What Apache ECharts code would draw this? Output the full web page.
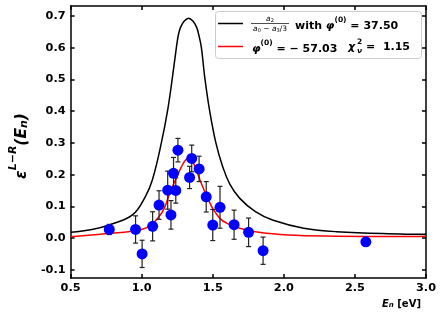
<!DOCTYPE html>
<html>
<head>
<meta charset="utf-8">
<script src="https://cdn.jsdelivr.net/npm/echarts@6/dist/echarts.min.js"></script>
<style>
html,body{margin:0;padding:0;background:#fff;}
#chart{width:443px;height:315px;}
</style>
</head>
<body>
<div id="chart"></div>
<script>
// ---- data ----
var energies = [0.772, 0.957, 1.003, 1.077, 1.122, 1.183, 1.206, 1.224, 1.240, 1.255,
                1.337, 1.352, 1.404, 1.454, 1.500, 1.551, 1.650, 1.752, 1.854, 2.577];
var asymmetry = [0.027, 0.027, -0.050, 0.037, 0.104, 0.151, 0.073, 0.204, 0.150, 0.277,
                 0.191, 0.251, 0.218, 0.130, 0.041, 0.097, 0.042, 0.018, -0.040, -0.012];
var asymErr = [0.016, 0.043, 0.043, 0.046, 0.045, 0.060, 0.045, 0.050, 0.040, 0.037,
               0.035, 0.042, 0.040, 0.048, 0.049, 0.066, 0.046, 0.045, 0.043, 0.010];

// black curve: a2/(a0 - a3/3) with phi(0)=37.50
var blackX = [0.50, 0.65, 0.776, 0.935, 1.025, 1.075, 1.138, 1.183, 1.217, 1.244, 1.258, 1.274, 1.300, 1.330,
              1.360, 1.386, 1.402, 1.420, 1.443, 1.477, 1.522, 1.570, 1.620, 1.690, 1.800, 1.920, 2.140, 2.370, 2.820, 3.00];
var blackY = [0.018, 0.027, 0.042, 0.073, 0.130, 0.183, 0.299, 0.404, 0.509, 0.600, 0.640, 0.665, 0.684, 0.693,
              0.684, 0.665, 0.640, 0.600, 0.509, 0.404, 0.300, 0.225, 0.170, 0.125, 0.083, 0.057, 0.031, 0.020, 0.013, 0.012];

// red curve: fit with phi(0) = -57.03
var redX = [0.50, 0.78, 0.94, 1.05, 1.12, 1.16, 1.20, 1.24, 1.28, 1.31, 1.33, 1.355, 1.38, 1.41,
            1.44, 1.465, 1.50, 1.55, 1.60, 1.69, 1.80, 2.03, 2.37, 2.82, 3.00];
var redY = [0.004, 0.015, 0.022, 0.036, 0.066, 0.095, 0.145, 0.185, 0.225, 0.247, 0.250, 0.243, 0.220, 0.183,
            0.150, 0.125, 0.093, 0.062, 0.046, 0.031, 0.020, 0.0095, 0.006, 0.005, 0.006];

var xTicks = [0.5, 1.0, 1.5, 2.0, 2.5, 3.0];
var yTicks = [-0.1, 0.0, 0.1, 0.2, 0.3, 0.4, 0.5, 0.6, 0.7];
var xMin = 0.5, xMax = 3.0, yMin = -0.126, yMax = 0.7315;

// ---- build options ----
function zip(a, b) { return a.map(function (v, i) { return [v, b[i]]; }); }
var errData = energies.map(function (x, i) { return [x, asymmetry[i] - asymErr[i], asymmetry[i] + asymErr[i]]; });

var FONT = 'DejaVu Sans';
var axisLineStyle = { color: '#000', width: 1.5 };
function xAxisCfg(pos, showLabel) {
  return {
    type: 'value', position: pos, min: xMin, max: xMax, interval: 0.5,
    axisLine: { show: true, onZero: false, lineStyle: axisLineStyle },
    axisTick: { show: true, inside: true, length: 4, lineStyle: { color: '#000', width: 1.5 } },
    axisLabel: { show: showLabel, color: '#000', fontFamily: FONT, fontWeight: 'bold', fontSize: 11.3, margin: 5,
                 formatter: function (v) { return v.toFixed(1); } },
    splitLine: { show: false }
  };
}
function yAxisCfg(pos, showLabel) {
  return {
    type: 'value', position: pos, min: yMin, max: yMax,
    axisLine: { show: true, onZero: false, lineStyle: axisLineStyle },
    axisTick: { show: true, inside: true, length: 4, lineStyle: { color: '#000', width: 1.5 }, customValues: yTicks },
    axisLabel: { show: showLabel, color: '#000', fontFamily: FONT, fontWeight: 'bold', fontSize: 11.3, margin: 5,
                 customValues: yTicks, formatter: function (v) { return v.toFixed(1); } },
    splitLine: { show: false }
  };
}

var xa0 = xAxisCfg('bottom', true);
xa0.name = '{i|E}{s|n}{b| [eV]}';
xa0.nameLocation = 'end';
xa0.nameGap = -44;
xa0.nameTextStyle = {
  align: 'left', verticalAlign: 'top', padding: [17, 0, 0, 0],
  rich: {
    i: { fontFamily: FONT, fontWeight: 'bold', fontStyle: 'italic', fontSize: 10, color: '#000', lineHeight: 14, verticalAlign: 'bottom' },
    s: { fontFamily: FONT, fontWeight: 'bold', fontStyle: 'italic', fontSize: 7, color: '#000', lineHeight: 10, verticalAlign: 'bottom' },
    b: { fontFamily: FONT, fontWeight: 'bold', fontSize: 10, color: '#000', lineHeight: 14, verticalAlign: 'bottom' }
  }
};

var ya0 = yAxisCfg('left', true);
ya0.name = '{e|ε}{sup|L−R}{e|(E}{sub|n}{e|)}';
ya0.nameLocation = 'middle';
ya0.nameRotate = 90;
ya0.nameGap = 28;
ya0.nameTextStyle = {
  padding: [0, 8, 0, 0],
  rich: {
    e: { fontFamily: FONT, fontWeight: 'bold', fontStyle: 'italic', fontSize: 15.5, color: '#000', lineHeight: 22, verticalAlign: 'bottom' },
    sup: { fontFamily: FONT, fontWeight: 'bold', fontStyle: 'italic', fontSize: 11, color: '#000', lineHeight: 12, verticalAlign: 'top' },
    sub: { fontFamily: FONT, fontWeight: 'bold', fontStyle: 'italic', fontSize: 11, color: '#000', lineHeight: 12, verticalAlign: 'bottom' }
  }
};

var richLeg = {
  t: { fontFamily: FONT, fontWeight: 'bold', fontSize: 11, color: '#000', lineHeight: 16, verticalAlign: 'bottom' },
  m: { fontFamily: FONT, fontWeight: 'bold', fontStyle: 'italic', fontSize: 11, color: '#000', lineHeight: 16, verticalAlign: 'bottom' },
  sup: { fontFamily: FONT, fontWeight: 'bold', fontSize: 7.5, color: '#000', lineHeight: 12, verticalAlign: 'top' }
};

var option = {
  animation: false,
  backgroundColor: '#fff',
  grid: { left: 58, right: 17, top: 6, bottom: 37, containLabel: false },
  xAxis: [xa0, xAxisCfg('top', false)],
  yAxis: [ya0, yAxisCfg('right', false)],
  series: [
    { type: 'line', name: 'black', data: zip(blackX, blackY), showSymbol: false, smooth: 0.4,
      lineStyle: { color: '#000', width: 1.5 }, z: 2 },
    { type: 'line', name: 'red', data: zip(redX, redY), showSymbol: false, smooth: 0.4,
      lineStyle: { color: '#ff0000', width: 1.5 }, z: 3 },
    { type: 'custom', name: 'err', data: errData, z: 4,
      renderItem: function (params, api) {
        var x = api.value(0);
        var p1 = api.coord([x, api.value(1)]);
        var p2 = api.coord([x, api.value(2)]);
        var w = 2.5;
        var st = { stroke: '#222', lineWidth: 1.2 };
        return { type: 'group', children: [
          { type: 'line', shape: { x1: p1[0], y1: p1[1], x2: p2[0], y2: p2[1] }, style: st },
          { type: 'line', shape: { x1: p1[0] - w, y1: p1[1], x2: p1[0] + w, y2: p1[1] }, style: st },
          { type: 'line', shape: { x1: p2[0] - w, y1: p2[1], x2: p2[0] + w, y2: p2[1] }, style: st }
        ] };
      } },
    { type: 'scatter', name: 'data', data: zip(energies, asymmetry), symbol: 'circle', symbolSize: 11,
      itemStyle: { color: '#0000ff', opacity: 1 }, z: 5 }
  ],
  graphic: [
    { type: 'rect', shape: { x: 215.5, y: 11.5, width: 206, height: 47, r: 3 }, style: { fill: 'rgba(255,255,255,0.85)', stroke: '#cccccc', lineWidth: 1 }, z: 10 },
    { type: 'line', shape: { x1: 218, y1: 23.5, x2: 243, y2: 23.5 }, style: { stroke: '#000', lineWidth: 1.5 }, z: 11 },
    { type: 'line', shape: { x1: 218, y1: 46.5, x2: 243, y2: 46.5 }, style: { stroke: '#ff0000', lineWidth: 1.5 }, z: 11 },
    // fraction a2 / (a0 - a3/3)
    { type: 'text', x: 270, y: 19, z: 11, style: { text: '{i|a}{s|2}', align: 'center', verticalAlign: 'middle',
        rich: { i: { fontFamily: FONT, fontStyle: 'italic', fontSize: 7.5, color: '#000' }, s: { fontFamily: FONT, fontSize: 5, color: '#000', padding: [4, 0, 0, 0] } } } },
    { type: 'line', shape: { x1: 251, y1: 23.5, x2: 289, y2: 23.5 }, style: { stroke: '#000', lineWidth: 0.7 }, z: 11 },
    { type: 'text', x: 270, y: 29, z: 11, style: { text: '{i|a}{s|0}{n| − }{i|a}{s|3}{n|/3}', align: 'center', verticalAlign: 'middle',
        rich: { i: { fontFamily: FONT, fontStyle: 'italic', fontSize: 7.5, color: '#000' }, n: { fontFamily: FONT, fontSize: 7.5, color: '#000' }, s: { fontFamily: FONT, fontSize: 5, color: '#000', padding: [4, 0, 0, 0] } } } },
    { type: 'text', x: 295, y: 24, z: 11, style: { text: '{t|with }{m|φ}{sup|(0)}{t| = 37.50}', verticalAlign: 'middle', rich: richLeg } },
    { type: 'text', x: 252, y: 47, z: 11, style: { text: '{m|φ}{sup|(0)}{t| = − 57.03}', verticalAlign: 'middle', rich: richLeg } },
    { type: 'text', x: 348, y: 47, z: 11, style: { text: 'χ', verticalAlign: 'middle', fontFamily: FONT, fontWeight: 'bold', fontStyle: 'italic', fontSize: 11, fill: '#000' } },
    { type: 'text', x: 357, y: 42, z: 11, style: { text: '2', verticalAlign: 'middle', fontFamily: FONT, fontWeight: 'bold', fontSize: 7.5, fill: '#000' } },
    { type: 'text', x: 357, y: 51.5, z: 11, style: { text: 'ν', verticalAlign: 'middle', fontFamily: FONT, fontWeight: 'bold', fontStyle: 'italic', fontSize: 7.5, fill: '#000' } },
    { type: 'text', x: 366, y: 47, z: 11, style: { text: '=  1.15', verticalAlign: 'middle', fontFamily: FONT, fontWeight: 'bold', fontSize: 11, fill: '#000' } }
  ]
};

var chart = echarts.init(document.getElementById('chart'), null, { renderer: 'canvas' });
chart.setOption(option);
</script>
</body>
</html>
